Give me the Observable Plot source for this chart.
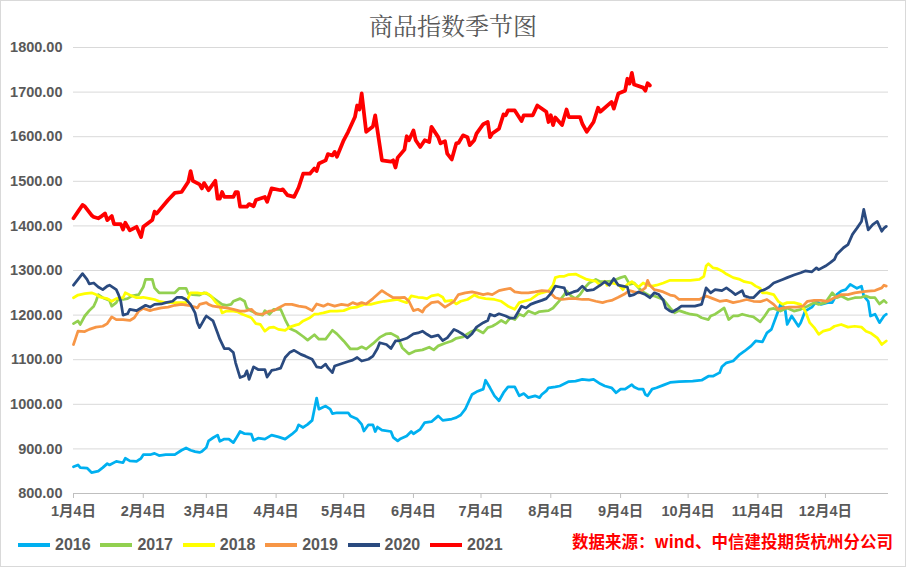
<!DOCTYPE html>
<html>
<head>
<meta charset="utf-8">
<script src="https://cdn.jsdelivr.net/npm/d3@7"></script>
<script src="https://cdn.jsdelivr.net/npm/@observablehq/plot@0.6"></script>
<style>
  html, body { margin: 0; padding: 0; background: #fff; }
  #wrap { position: relative; width: 906px; height: 567px; overflow: hidden; background: #fff; }
  #chart { position: absolute; left: 0; top: 0; }
  #frame { position: absolute; left: 0; top: 0; width: 906px; height: 567px; box-sizing: border-box; border: 1px solid #d9d9d9; pointer-events: none; }
  #title { position: absolute; left: 0; width: 906px; top: 10px; text-align: center; font-family: "Noto Serif CJK SC", "Noto Sans CJK SC", sans-serif; font-size: 24px; line-height: 30px; color: #595959; }
  .leg { position: absolute; top: 536px; height: 18px; font-family: "Liberation Sans", Arial, sans-serif; font-weight: bold; font-size: 16px; line-height: 18px; color: #595959; }
  .leg .sw { position: absolute; left: 0; top: 7px; width: 32px; height: 4px; }
  .leg .lb { position: absolute; left: 37px; top: 0; }
  #caption { position: absolute; right: 13px; top: 530px; font-family: "Noto Sans CJK SC", sans-serif; font-weight: bold; font-size: 16.5px; line-height: 22px; color: #ff0000; white-space: nowrap; }
</style>
</head>
<body>
<div id="wrap">
  <div id="chart"></div>
  <div id="title">商品指数季节图</div>
  <div id="legend"></div>
  <div id="caption">数据来源：wind、中信建投期货杭州分公司</div>
  <div id="frame"></div>
</div>
<script>
// ---- data (day of year, value) ----
const years = ["2016", "2017", "2018", "2019", "2020", "2021"];
const colors = ["#00b0f0", "#92d050", "#ffff00", "#f79646", "#2a4a7f", "#ff0000"];
const yTicks = [800, 900, 1000, 1100, 1200, 1300, 1400, 1500, 1600, 1700, 1800];
const xTickMonths = [1, 2, 3, 4, 5, 6, 7, 8, 9, 10, 11, 12];

const days2016 = [4,6,7,10,12,15,17,19,20,23,26,27,29,32,34,35,38,40,42,45,49,52,54,56,58,60,61,63,64,66,68,69,71,73,75,76,78,80,83,84,86,89,92,95,98,101,103,104,106,108,110,111,112,113,115,116,118,119,121,126,127,130,132,133,135,137,138,139,141,145,146,148,149,152,154,155,158,160,163,166,168,172,174,176,178,180,181,183,186,187,189,191,193,195,197,200,202,204,206,209,211,212,214,215,218,220,222,224,227,230,233,235,238,240,243,245,247,249,252,253,255,257,258,259,261,263,266,269,273,279,283,286,288,291,292,294,297,300,302,305,307,310,312,314,317,318,320,321,323,326,327,329,332,334,336,339,341,343,345,347,349,352,354,355,357,358,360,362,364,365];
const vals2016 = [860,864,858,857,847,850,858,867,864,872,869,879,873,872,879,887,887,890,885,887,887,897,902,897,894,892,894,903,918,925,931,917,922,922,914,922,939,934,933,919,924,922,931,927,922,933,942,954,948,955,964,989,1014,989,994,996,989,979,981,981,974,967,955,940,954,954,939,949,942,939,926,918,922,929,939,934,944,959,961,974,964,967,970,976,989,1011,1022,1028,1034,1054,1037,1019,1008,1026,1039,1039,1019,1024,1015,1019,1015,1022,1030,1037,1039,1041,1046,1051,1052,1056,1054,1056,1046,1041,1037,1026,1034,1034,1044,1039,1034,1034,1022,1019,1034,1037,1043,1049,1051,1052,1054,1063,1063,1071,1084,1093,1097,1112,1119,1131,1142,1140,1160,1168,1209,1224,1216,1179,1198,1175,1183,1209,1218,1231,1224,1228,1228,1246,1254,1257,1269,1260,1265,1243,1231,1198,1202,1183,1198,1202];

const days2017 = [4,6,7,9,11,13,14,15,17,20,21,23,24,26,28,30,33,35,36,39,40,42,49,51,54,55,57,60,62,64,67,70,72,74,75,78,80,81,83,86,88,89,91,93,96,98,100,103,106,108,111,113,116,119,121,124,127,130,132,134,137,140,143,145,148,150,153,156,159,162,164,166,169,172,174,177,179,181,183,186,188,190,192,194,196,198,200,202,204,206,209,211,213,215,217,220,222,223,225,227,229,231,233,236,238,240,243,245,247,249,251,253,255,257,260,262,264,266,269,271,273,276,278,281,283,286,287,289,291,293,295,297,299,301,304,306,309,311,313,315,318,321,324,327,330,333,335,338,341,343,345,348,351,354,356,358,360,362,364,365];
const vals2017 = [1181,1187,1179,1198,1210,1220,1231,1246,1239,1233,1220,1228,1237,1235,1237,1243,1246,1263,1280,1280,1261,1250,1250,1260,1260,1248,1246,1245,1250,1246,1235,1224,1222,1224,1231,1237,1231,1216,1209,1202,1200,1210,1202,1213,1213,1190,1170,1163,1152,1144,1156,1146,1146,1166,1158,1142,1124,1124,1129,1124,1136,1150,1158,1159,1151,1127,1113,1120,1122,1128,1122,1131,1137,1142,1148,1151,1158,1164,1168,1160,1172,1175,1181,1188,1182,1194,1190,1202,1198,1209,1203,1208,1209,1210,1216,1233,1246,1254,1243,1237,1246,1261,1272,1280,1275,1275,1276,1280,1284,1287,1269,1272,1261,1252,1243,1243,1239,1235,1216,1205,1210,1205,1202,1200,1194,1190,1198,1202,1209,1216,1190,1198,1198,1202,1198,1196,1185,1198,1213,1215,1209,1216,1209,1213,1220,1228,1224,1228,1250,1239,1243,1235,1239,1240,1243,1239,1239,1225,1233,1228];

const days2018 = [4,6,9,12,14,16,19,21,23,26,27,29,32,34,35,38,40,42,45,48,51,54,56,59,61,63,65,67,69,70,72,75,77,79,81,83,85,87,89,91,93,95,98,100,103,104,106,109,111,113,115,118,121,124,127,130,133,136,139,142,145,148,150,152,154,157,159,161,163,166,168,169,172,174,176,179,182,184,187,191,194,197,200,202,204,207,210,212,215,217,218,220,222,224,227,229,232,234,236,238,240,241,243,246,248,250,252,254,255,257,259,261,263,266,269,272,275,278,282,284,285,286,288,290,292,294,297,300,302,305,307,309,310,312,315,317,319,321,324,327,329,331,333,335,337,340,342,345,348,351,354,356,358,361,363,364,365];
const vals2018 = [1239,1245,1248,1250,1246,1240,1237,1231,1237,1239,1250,1245,1239,1239,1240,1237,1235,1231,1228,1228,1228,1228,1250,1250,1248,1250,1243,1230,1220,1205,1209,1209,1207,1202,1198,1194,1181,1179,1164,1172,1173,1168,1166,1173,1178,1179,1187,1194,1202,1203,1205,1209,1209,1210,1216,1218,1224,1224,1228,1231,1233,1235,1231,1228,1243,1240,1239,1237,1243,1246,1240,1231,1233,1225,1231,1235,1245,1240,1237,1235,1231,1220,1213,1228,1231,1235,1246,1250,1254,1267,1284,1287,1287,1291,1292,1287,1280,1278,1276,1267,1276,1267,1272,1269,1257,1269,1275,1267,1263,1272,1267,1265,1267,1272,1278,1278,1278,1278,1280,1287,1310,1315,1306,1304,1299,1292,1284,1280,1275,1272,1265,1260,1250,1250,1246,1231,1224,1228,1228,1224,1209,1183,1172,1157,1164,1168,1175,1179,1173,1175,1173,1164,1160,1149,1134,1138,1142];

const days2019 = [4,5,6,9,11,14,17,19,21,23,26,29,31,33,35,38,40,43,46,49,52,55,58,59,60,63,64,66,69,72,75,78,80,83,85,88,91,93,95,98,101,104,107,110,112,115,117,120,123,126,128,130,132,134,137,139,141,143,146,149,151,153,155,157,159,160,163,166,169,171,173,175,178,181,183,186,188,190,193,195,198,200,203,206,209,212,215,218,221,224,227,230,233,236,239,241,243,246,249,251,253,255,258,259,260,262,264,266,269,271,273,276,279,282,285,288,291,294,297,300,303,306,309,312,315,317,319,322,325,328,330,333,336,339,342,345,348,351,354,357,360,363,364,365];
const vals2019 = [1134,1149,1164,1163,1168,1173,1175,1181,1196,1190,1190,1188,1194,1209,1215,1210,1213,1216,1218,1222,1224,1222,1218,1216,1224,1228,1224,1220,1218,1216,1213,1209,1209,1213,1203,1202,1209,1210,1216,1224,1224,1220,1218,1210,1225,1220,1225,1220,1224,1222,1228,1224,1228,1225,1237,1246,1255,1248,1239,1239,1240,1231,1210,1213,1207,1216,1228,1230,1218,1224,1231,1246,1250,1252,1250,1246,1248,1246,1255,1257,1260,1252,1250,1250,1252,1255,1254,1239,1235,1237,1237,1235,1235,1231,1228,1231,1233,1240,1248,1255,1252,1250,1261,1278,1267,1257,1255,1252,1245,1243,1235,1235,1235,1235,1243,1237,1231,1233,1228,1231,1235,1231,1230,1235,1224,1213,1216,1218,1218,1220,1231,1233,1233,1231,1239,1246,1246,1250,1252,1254,1255,1261,1267,1265];

const days2020 = [4,6,8,10,11,13,15,17,19,20,23,24,25,26,28,29,32,34,36,38,40,43,45,48,50,52,54,56,58,59,60,62,63,66,68,69,71,73,75,76,78,80,81,82,84,86,89,90,92,94,96,98,100,102,105,107,110,112,114,116,117,119,120,123,126,128,130,132,135,137,139,140,143,145,147,149,152,155,157,159,161,163,166,168,170,173,175,177,179,181,183,186,188,189,191,193,196,198,200,203,205,207,209,212,214,216,218,220,222,223,226,228,230,232,235,238,240,242,244,246,248,250,251,253,255,258,260,262,264,266,267,269,270,272,274,277,280,283,285,287,289,292,294,296,298,301,302,304,306,309,311,313,315,317,319,321,324,327,329,332,334,335,338,340,342,343,346,348,350,352,354,355,357,359,361,363,364,365];
const vals2020 = [1267,1280,1293,1280,1270,1272,1263,1257,1265,1267,1257,1246,1231,1200,1203,1213,1210,1216,1222,1218,1224,1225,1228,1231,1240,1240,1235,1224,1205,1183,1172,1190,1198,1187,1160,1146,1125,1125,1116,1093,1060,1064,1075,1056,1084,1078,1078,1061,1076,1078,1081,1105,1116,1121,1112,1108,1101,1084,1082,1090,1082,1071,1086,1091,1096,1099,1105,1097,1101,1108,1125,1138,1134,1125,1142,1143,1148,1158,1160,1164,1157,1151,1155,1143,1149,1168,1163,1157,1149,1158,1173,1183,1188,1202,1198,1203,1198,1193,1194,1220,1216,1224,1228,1233,1237,1248,1265,1263,1261,1246,1252,1255,1265,1255,1257,1267,1275,1267,1282,1267,1265,1263,1243,1246,1252,1246,1239,1250,1246,1233,1216,1209,1207,1213,1220,1220,1220,1224,1261,1250,1257,1255,1261,1254,1246,1255,1243,1240,1239,1254,1257,1263,1272,1276,1280,1284,1290,1295,1299,1297,1306,1302,1310,1317,1325,1336,1351,1358,1381,1395,1410,1437,1391,1403,1410,1388,1395,1399];

const days2021 = [4,6,8,9,12,13,15,16,18,19,21,22,25,26,27,29,32,34,35,39,40,41,46,49,52,55,56,57,60,61,62,64,67,68,69,70,71,75,76,77,78,81,82,84,85,89,90,92,96,97,99,102,104,106,109,111,112,113,116,117,119,120,121,124,126,129,130,131,132,134,137,138,141,145,146,147,148,151,152,153,155,156,158,160,162,163,166,167,169,170,172,174,175,177,179,180,182,183,186,188,189,190,193,195,196,197,200,203,204,208,210,214,215,216,217,218,221,223,224,229,230,232,235,237,238,243,244,246,249,250,251,252,253,257,258,259,260];
const vals2021 = [1417,1432,1447,1444,1424,1420,1417,1420,1428,1413,1422,1404,1404,1392,1407,1390,1398,1375,1398,1413,1432,1428,1458,1474,1476,1499,1523,1501,1493,1484,1496,1480,1501,1461,1461,1476,1465,1465,1476,1476,1443,1443,1449,1444,1458,1465,1454,1484,1480,1482,1469,1465,1486,1517,1517,1529,1523,1540,1547,1561,1558,1566,1555,1592,1611,1644,1670,1661,1697,1611,1623,1648,1547,1544,1547,1531,1553,1571,1601,1592,1614,1592,1577,1592,1588,1622,1599,1585,1590,1562,1549,1585,1586,1603,1599,1581,1592,1607,1628,1633,1599,1607,1618,1650,1648,1659,1659,1635,1648,1648,1670,1656,1633,1648,1626,1643,1626,1661,1644,1644,1629,1611,1633,1665,1656,1678,1663,1697,1703,1730,1719,1743,1717,1710,1703,1720,1715];

const allDays = [days2016, days2017, days2018, days2019, days2020, days2021];
const allVals = [vals2016, vals2017, vals2018, vals2019, vals2020, vals2021];

// ---- build ----
const dateOf = d => new Date(Date.UTC(2021, 0, d));
const xTicks = xTickMonths.map(m => new Date(Date.UTC(2021, m - 1, 4)));
const seriesRows = allDays.map((days, i) => days.map((d, j) => ({year: years[i], date: dateOf(d), value: allVals[i][j]})));

const FONT = '"Liberation Sans", Arial, "Noto Sans CJK SC", sans-serif';

const lineMarks = seriesRows.map((rows, i) =>
  Plot.line(rows, {
    x: "date", y: "value",
    stroke: colors[i],
    strokeWidth: years[i] === "2021" ? 3.75 : 2.75,
    strokeLinejoin: "round", strokeLinecap: "round"
  })
);

const chart = Plot.plot({
  width: 906,
  height: 567,
  marginLeft: 73,
  marginRight: 18,
  marginTop: 47,
  marginBottom: 74,
  style: {fontFamily: FONT, fontSize: "14.5px", fontWeight: "bold", color: "#595959", background: "transparent", overflow: "visible"},
  x: {type: "utc", domain: [dateOf(4), dateOf(366)], label: null},
  y: {domain: [800, 1800], label: null},
  marks: [
    Plot.ruleY(yTicks.filter(v => v > 800), {stroke: "#d9d9d9", strokeWidth: 1}),
    Plot.ruleY([800], {stroke: "#bfbfbf", strokeWidth: 1}),
    Plot.axisY(yTicks, {tickSize: 0, tickPadding: 11, tickFormat: d => d.toFixed(2), fill: "#595959", label: null}),
    Plot.axisX(xTicks, {tickSize: 5, tickPadding: 7, stroke: "#bfbfbf", fill: "#595959",
      tickFormat: d => `${d.getUTCMonth() + 1}月${d.getUTCDate()}日`, label: null}),
    ...lineMarks
  ]
});
document.getElementById("chart").appendChild(chart);

// ---- legend ----
const legend = document.getElementById("legend");
years.forEach((y, i) => {
  const item = document.createElement("div");
  item.className = "leg";
  item.style.left = (18 + i * 82.4) + "px";
  item.innerHTML = `<div class="sw" style="background:${colors[i]}"></div><div class="lb">${y}</div>`;
  legend.appendChild(item);
});
</script>
</body>
</html>
